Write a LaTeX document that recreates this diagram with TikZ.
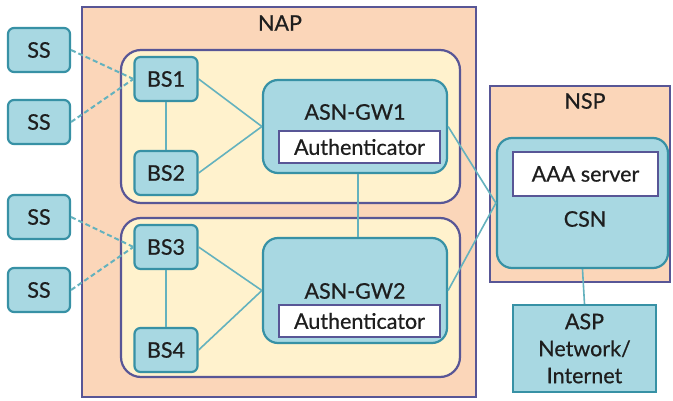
\documentclass[tikz,border=0pt]{standalone}
\usepackage{fontspec}
\setmainfont{Lato}[FakeBold=0.6]
\definecolor{peach}{RGB}{251,214,185}
\definecolor{cream}{RGB}{255,242,205}
\definecolor{frame}{RGB}{88,86,150}
\definecolor{tealfill}{RGB}{168,216,226}
\definecolor{tealedge}{RGB}{55,145,165}
\definecolor{linkcol}{RGB}{100,178,190}
\definecolor{ink}{RGB}{30,30,30}
\newcommand{\labelfont}{\fontsize{21.5}{24}\selectfont}
\tikzset{
  area/.style={draw=frame, fill=peach, line width=2.5pt, inner sep=0pt},
  zone/.style={draw=frame, fill=cream, line width=2.2pt, rounded corners=20pt, inner sep=0pt},
  dev/.style={draw=tealedge, fill=tealfill, line width=2.2pt, rounded corners=6pt,
    minimum width=62pt, minimum height=44pt, inner sep=0pt, text=ink, font=\labelfont},
  gw/.style={draw=tealedge, fill=tealfill, line width=2.2pt, rounded corners=15pt, inner sep=0pt},
  authbox/.style={draw=frame, fill=white, line width=2.2pt, inner sep=0pt,
    minimum width=161pt, minimum height=32pt, text=ink, font=\labelfont},
  lbl/.style={text=ink, font=\labelfont, inner sep=0pt},
  link/.style={draw=linkcol, line width=1.6pt},
  radio/.style={draw=linkcol, line width=2pt, dash pattern=on 5pt off 3pt},
}
\begin{document}
\begin{tikzpicture}[x=1pt, y=-1pt]
\useasboundingbox[fill=white] (0,0) rectangle (673,401);

% access network provider
\node[area, minimum width=394pt, minimum height=390pt] (nap) at (279,202) {};
\node[lbl] (naplbl) at (280,23) {NAP};
\node[zone, minimum width=339pt, minimum height=153pt] (zoneA) at (290.5,126.5) {};
\node[zone, minimum width=339pt, minimum height=159pt] (zoneB) at (290.5,297.5) {};

% service provider
\node[area, minimum width=180pt, minimum height=196pt] (nsp) at (580,184) {};
\node[lbl] (nsplbl) at (585,101) {NSP};
\node[gw, minimum width=171pt, minimum height=130pt] (csn) at (582.5,203) {};
\node[authbox, minimum width=145pt, minimum height=44pt] (aaa) at (585.5,174) {AAA server};
\node[lbl] (csnlbl) at (585,219) {CSN};

% application provider
\node[draw=tealedge, fill=tealfill, line width=2.2pt, minimum width=143pt, minimum height=87pt,
      inner sep=0pt, text=ink, align=center, font=\fontsize{21.5}{27}\selectfont] (asp) at (584.5,348.5)
      {ASP\\Network/\\Internet};

% gateways
\node[gw, minimum width=184pt, minimum height=93pt] (gw1) at (355,126.5) {};
\node[lbl] (gw1lbl) at (355,112) {ASN-GW1};
\node[authbox] (auth1) at (359.5,147) {Authenticator};
\node[gw, minimum width=184pt, minimum height=105pt] (gw2) at (355,290.5) {};
\node[lbl] (gw2lbl) at (355,291) {ASN-GW2};
\node[authbox] (auth2) at (359.5,321) {Authenticator};

% base stations and subscriber stations
\node[dev, minimum width=63pt] (bs1) at (166,79) {BS1};
\node[dev, minimum width=63pt] (bs2) at (166,173) {BS2};
\node[dev, minimum width=63pt] (bs3) at (166,247) {BS3};
\node[dev, minimum width=63pt] (bs4) at (166,350) {BS4};
\node[dev] (ss1) at (39,50) {SS};
\node[dev] (ss2) at (39,122) {SS};
\node[dev] (ss3) at (39,217) {SS};
\node[dev] (ss4) at (39,290) {SS};

% wired links
\draw[link] (bs1) -- (bs2);
\draw[link] (bs3) -- (bs4);
\draw[link] (bs1.east) -- (gw1.west);
\draw[link] (bs2.east) -- (gw1.west);
\draw[link] (bs3.east) -- (gw2.west);
\draw[link] (bs4.east) -- (gw2.west);
\draw[link] ([xshift=3pt]gw1.south) -- ([xshift=3pt]gw2.north);
\draw[link] (gw1.east) -- (csn.west);
\draw[link] (gw2.east) -- (csn.west);
\draw[link] (csn.south) -- (asp.north);

% radio links
\draw[radio] (ss1.east) -- (bs1.west);
\draw[radio] (ss2.east) -- (bs1.west);
\draw[radio] (ss3.east) -- (bs3.west);
\draw[radio] (ss4.east) -- (bs3.west);
\end{tikzpicture}
\end{document}
